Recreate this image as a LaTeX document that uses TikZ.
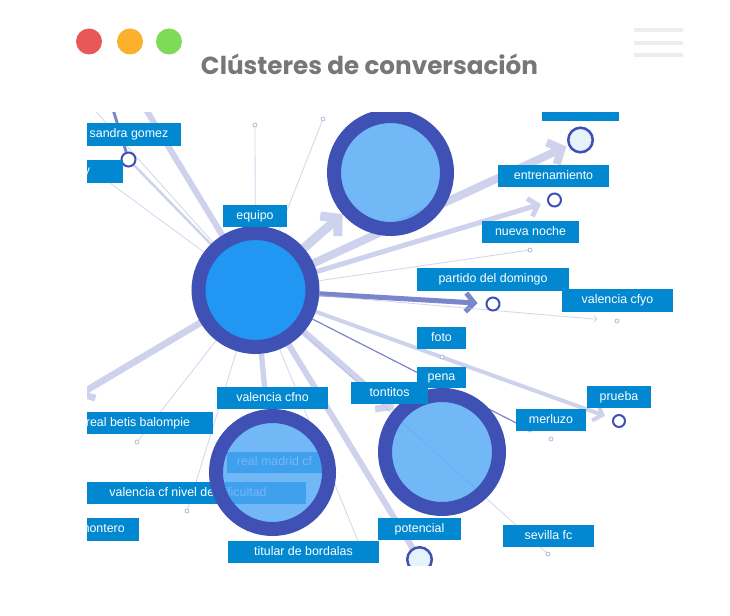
\documentclass[tikz,border=0pt]{standalone}
\usepackage{fontspec}
\setmainfont{Liberation Sans}
\newfontfamily\titlefont{Poppins}
\usetikzlibrary{arrows.meta}
\pgfdeclarelayer{bglayer}
\pgfdeclarelayer{edgelayer}
\pgfsetlayers{bglayer,edgelayer,main}
\definecolor{ringblue}{HTML}{3F51B5}
\definecolor{hubfill}{HTML}{2196F3}
\definecolor{cfill}{HTML}{4FA6F4}
\definecolor{labblue}{HTML}{0288D1}
\definecolor{lav}{HTML}{CED2EC}
\definecolor{lavdark}{HTML}{7986CB}
\definecolor{thinc}{HTML}{B3BAE0}
\definecolor{titlegray}{HTML}{777777}
\definecolor{dotred}{HTML}{E85858}
\definecolor{dotorange}{HTML}{FBB02E}
\definecolor{dotgreen}{HTML}{7FDA57}
\definecolor{menugray}{HTML}{EDEDED}
\definecolor{smallfill}{HTML}{E3F1FC}
\tikzset{
  labbox/.style={fill=labblue, text=white, inner sep=0pt, text height=6.7pt, text depth=1.9pt,
    font=\fontsize{9.3}{10}\selectfont},
  bigring/.style={circle, draw=ringblue, line width=10.5pt, inner sep=0pt},
  lightring/.style={bigring, fill=cfill, fill opacity=0.8, draw opacity=1},
  smallring/.style={circle, draw=ringblue, line width=1.9pt, inner sep=0pt, minimum size=18.4pt, fill=smallfill, fill opacity=0.85, draw opacity=1},
  miniring/.style={circle, draw=ringblue, line width=1.5pt, inner sep=0pt, fill=white},
  tinydot/.style={circle, draw=thinc, line width=0.6pt, inner sep=0pt, minimum size=3pt, fill=white},
  lavedge/.style={draw=lav},
  darkedge/.style={draw=lavdark},
  thinedge/.style={draw=thinc, line width=0.6pt, draw opacity=0.6},
  barb/.style={-{Straight Barb[length=#1*0.45pt, width=#1pt]}},
  menuline/.style={draw=menugray, line width=3pt},
  winbtn/.style={circle, inner sep=0pt, minimum size=19.5pt}
}
\newcommand\lab[6]{\node[labbox, minimum width={(#4-#2)*0.75pt}, minimum height={(#5-#3)*0.75pt}] (#1) at ({(#2+#4)/2},{(#3+#5)/2}) {#6};}
\begin{document}
\begin{tikzpicture}[x=0.75pt,y=-0.75pt]
\useasboundingbox (0,0) rectangle (730,616);
\begin{pgfonlayer}{bglayer}
\fill[white] (0,0) rectangle (730,616);
\end{pgfonlayer}
% window chrome
\node[winbtn, fill=dotred] (bred) at (89,41.5) {};
\node[winbtn, fill=dotorange] (borange) at (130,41.5) {};
\node[winbtn, fill=dotgreen] (bgreen) at (169,41.5) {};
\coordinate (m1a) at (634,30); \coordinate (m1b) at (683,30);
\coordinate (m2a) at (634,43); \coordinate (m2b) at (683,43);
\coordinate (m3a) at (634,55.5); \coordinate (m3b) at (683,55.5);
\draw[menuline] (m1a) -- (m1b);
\draw[menuline] (m2a) -- (m2b);
\draw[menuline] (m3a) -- (m3b);
\node[font=\titlefont\bfseries\fontsize{18.5}{22}\selectfont, text=titlegray, anchor=base, inner sep=0pt] (title) at (369.5,75) {Clústeres de conversación};

\begin{scope}
\clip (87,113) rectangle (690,565);
% big clusters
\node[bigring, fill=hubfill, minimum size=85.5pt] (A) at (255.5,290) {};
\node[lightring, minimum size=84.75pt] (B) at (390.5,172.5) {};
\node[lightring, minimum size=85.5pt] (C) at (442,452) {};
% small rings
\node[smallring] (TR) at (580.5,140) {};
\node[smallring] (PT) at (419.5,559.5) {};
\node[miniring, minimum size=9.75pt] (EC) at (554.5,200) {};
\node[miniring, minimum size=9.75pt] (PC) at (493,304) {};
\node[miniring, minimum size=9pt] (PR) at (619,421) {};
\node[miniring, minimum size=10.5pt] (SG) at (128.5,159.5) {};
% tiny dots
\node[tinydot] (d1) at (255,125) {};
\node[tinydot] (d2) at (617,321) {};
\node[tinydot] (d3) at (530,250) {};
\node[tinydot] (d4) at (530,430) {};
\node[tinydot] (d5) at (137,442) {};
\node[tinydot] (d6) at (187,511) {};
\node[tinydot] (d7) at (548,554) {};
\node[tinydot] (d8) at (323,119) {};
\node[tinydot] (d9) at (442,357) {};
\node[tinydot] (d10) at (551,439) {};
% labels under cluster D
\lab{lrm}{227}{452}{322}{473}{real madrid cf}
\lab{lvd}{70}{482}{306}{504}{valencia cf nivel de dificultad}
\node[lightring, minimum size=84.75pt] (D) at (272.5,472.5) {};
% other labels
\lab{lsg}{77}{123}{181}{146}{sandra gomez}
\lab{ly}{51}{160}{123}{183}{y}
\lab{leq}{223}{205}{287}{227}{equipo}
\lab{ltop}{542}{95}{619}{121}{}
\lab{lent}{498}{165}{609}{187}{entrenamiento}
\lab{lnn}{482}{221}{579}{243}{nueva noche}
\lab{lpd}{417}{268}{569}{291}{partido del domingo}
\lab{lvy}{562}{289}{673}{312}{valencia cfyo}
\lab{lfo}{417}{327}{466}{349}{foto}
\lab{lpe}{417}{367}{466}{388}{pena}
\lab{lto}{351}{382}{428}{404}{tontitos}
\lab{lvn}{217}{387}{328}{409}{valencia cfno}
\lab{lrb}{63}{412}{213}{434}{real betis balompie}
\lab{lpr}{587}{386}{651}{408}{prueba}
\lab{lme}{516}{409}{586}{431}{merluzo}
\lab{lmo}{65}{518}{139}{541}{montero}
\lab{ltb}{228}{541}{379}{563}{titular de bordalas}
\lab{lpo}{378}{518}{461}{540}{potencial}
\lab{lsf}{503}{525}{594}{547}{sevilla fc}
\end{scope}

\begin{pgfonlayer}{edgelayer}
\clip (87,113) rectangle (690,565);
\coordinate (tl0) at (91,106);
\coordinate (tl1) at (142,103);
\coordinate (tl2) at (111,103);
\coordinate (yl) at (110,183);
\coordinate (lf) at (77,396);
\coordinate (tbend) at (358,541);
\draw[thinedge] (A) -- (tl0);
\draw[lavedge, line width=4.5pt] (A) -- (tl1);
\draw[lavedge, line width=1.8pt] (A) -- (SG);
\draw[darkedge, line width=2.2pt] (tl2) -- (SG);
\draw[thinedge] (A) -- (yl);
\draw[thinedge] (A) -- (d1);
\draw[thinedge] (A) -- (d8);
\draw[thinedge] (A) -- (d3);
\draw[lavedge, line width=6.75pt, barb=20] (A) -- (B);
\draw[lavedge, line width=6pt, barb=18, shorten >=1.5pt] (A) -- (TR);
\draw[lavedge, line width=3.75pt, barb=14, shorten >=5pt] (A) -- (EC);
\draw[darkedge, line width=3.75pt, barb=14, shorten >=6pt] (A) -- (PC);
\draw[thinedge, barb=5, shorten >=13pt] (A) -- (d2);
\draw[lavedge, line width=3pt, barb=13, shorten >=6pt] (A) -- (PR);
\draw[darkedge, line width=0.9pt] (A) -- (d4);
\draw[lavedge, line width=5pt, barb=17] (A) -- (C);
\draw[lavedge, line width=4.5pt] (A) -- (PT);
\draw[lavedge, line width=4pt] (A) -- (D);
\draw[lavedge, line width=5pt, barb=17] (A) -- (lf);
\draw[thinedge] (A) -- (d5);
\draw[thinedge] (A) -- (d6);
\draw[thinedge] (A) -- (d7);
\draw[thinedge] (A) -- (tbend);
\end{pgfonlayer}
\end{tikzpicture}
\end{document}
